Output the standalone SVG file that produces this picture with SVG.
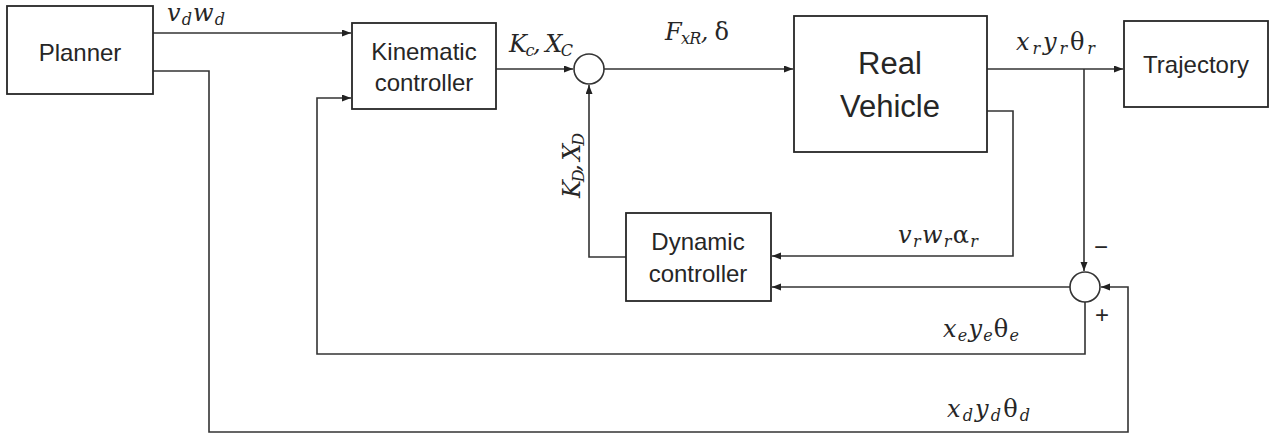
<svg xmlns="http://www.w3.org/2000/svg" width="1270" height="435" viewBox="0 0 1270 435">
<style>
.box{fill:#fff;stroke:#262626;stroke-width:1.8}
.sum{fill:#fff;stroke:#333;stroke-width:1.6}
.lbl{font-family:"Liberation Sans",Arial,sans-serif;font-size:24px;fill:#262626;text-anchor:middle}
.big{font-size:31px}
.wire{fill:none;stroke:#333;stroke-width:1.6}
.m{font-family:"DejaVu Serif","Liberation Serif",serif;font-style:italic;font-size:24px;fill:#262626}
.s{font-size:16px}
.u{font-style:normal}
.sg{font-family:"Liberation Sans",Arial,sans-serif;font-size:24px;fill:#262626;text-anchor:middle}
</style>
<defs>
<marker id="ah" markerUnits="userSpaceOnUse" markerWidth="10" markerHeight="8" refX="9" refY="3.5" orient="auto">
<path d="M0,0 L9,3.5 L0,7 z" fill="#222"/>
</marker>
</defs>
<rect width="1270" height="435" fill="#fff"/>
<g id="connectors">
<path class="wire" d="M153,33 H351" marker-end="url(#ah)"/>
<path class="wire" d="M153,71 H209 V432 H1128 V287 H1101" marker-end="url(#ah)"/>
<path class="wire" d="M496,69 H573" marker-end="url(#ah)"/>
<path class="wire" d="M604,69 H793" marker-end="url(#ah)"/>
<path class="wire" d="M987,69 H1123" marker-end="url(#ah)"/>
<path class="wire" d="M1084,69 V271" marker-end="url(#ah)"/>
<path class="wire" d="M987,111 H1013 V256 H772" marker-end="url(#ah)"/>
<path class="wire" d="M1070,287 H772" marker-end="url(#ah)"/>
<path class="wire" d="M1085,302 V354 H317 V98 H351" marker-end="url(#ah)"/>
<path class="wire" d="M626,257 H589 V85" marker-end="url(#ah)"/>
</g>
<g id="labels">
<text class="m" x="167" y="21" textLength="58" lengthAdjust="spacing">v<tspan class="s" dy="4">d</tspan><tspan dy="-4">w</tspan><tspan class="s" dy="4">d</tspan></text>
<text class="m" x="509" y="52" textLength="64" lengthAdjust="spacing">K<tspan class="s" dy="4">c</tspan><tspan dy="-4">, X</tspan><tspan class="s" dy="4">C</tspan></text>
<text class="m" x="665" y="40" textLength="64" lengthAdjust="spacing">F<tspan class="s" dy="4">xR</tspan><tspan dy="-4">, </tspan><tspan class="u">δ</tspan></text>
<text class="m" x="1016" y="50" textLength="79" lengthAdjust="spacing">x<tspan class="s" dy="4">r</tspan><tspan dy="-4">y</tspan><tspan class="s" dy="4">r</tspan><tspan class="u" dy="-4">θ</tspan><tspan class="s" dy="4">r</tspan></text>
<text class="m" x="898" y="243" textLength="80" lengthAdjust="spacing">v<tspan class="s" dy="4">r</tspan><tspan dy="-4">w</tspan><tspan class="s" dy="4">r</tspan><tspan class="u" dy="-4">α</tspan><tspan class="s" dy="4">r</tspan></text>
<text class="m" x="943" y="337" textLength="76" lengthAdjust="spacing">x<tspan class="s" dy="4">e</tspan><tspan dy="-4">y</tspan><tspan class="s" dy="4">e</tspan><tspan class="u" dy="-4">θ</tspan><tspan class="s" dy="4">e</tspan></text>
<text class="m" x="947" y="417" textLength="83" lengthAdjust="spacing">x<tspan class="s" dy="4">d</tspan><tspan dy="-4">y</tspan><tspan class="s" dy="4">d</tspan><tspan class="u" dy="-4">θ</tspan><tspan class="s" dy="4">d</tspan></text>
<text class="m" transform="translate(580,198) rotate(-90)" textLength="65" lengthAdjust="spacing">K<tspan class="s" dy="4">D</tspan><tspan dy="-4">, X</tspan><tspan class="s" dy="4">D</tspan></text>
<text class="sg" x="1101" y="255">−</text>
<text class="sg" x="1102" y="323">+</text>
</g>
<g id="planner"><rect class="box" x="7" y="6" width="146" height="88"/><text class="lbl" x="80" y="61">Planner</text></g>
<g id="kinematic"><rect class="box" x="352" y="23" width="144" height="86"/><text class="lbl" x="424" y="60">Kinematic</text><text class="lbl" x="424" y="91">controller</text></g>
<g id="sum1"><circle class="sum" cx="589" cy="69" r="15"/></g>
<g id="vehicle"><rect class="box" x="794" y="16" width="193" height="136"/><text class="lbl big" x="890" y="74">Real</text><text class="lbl big" x="890" y="117">Vehicle</text></g>
<g id="trajectory"><rect class="box" x="1124" y="21" width="144" height="86"/><text class="lbl" x="1196" y="73">Trajectory</text></g>
<g id="dynamic"><rect class="box" x="626" y="213" width="145" height="88"/><text class="lbl" x="698" y="250">Dynamic</text><text class="lbl" x="698" y="282">controller</text></g>
<g id="sum2"><circle class="sum" cx="1085" cy="287" r="15"/></g>
</svg>
